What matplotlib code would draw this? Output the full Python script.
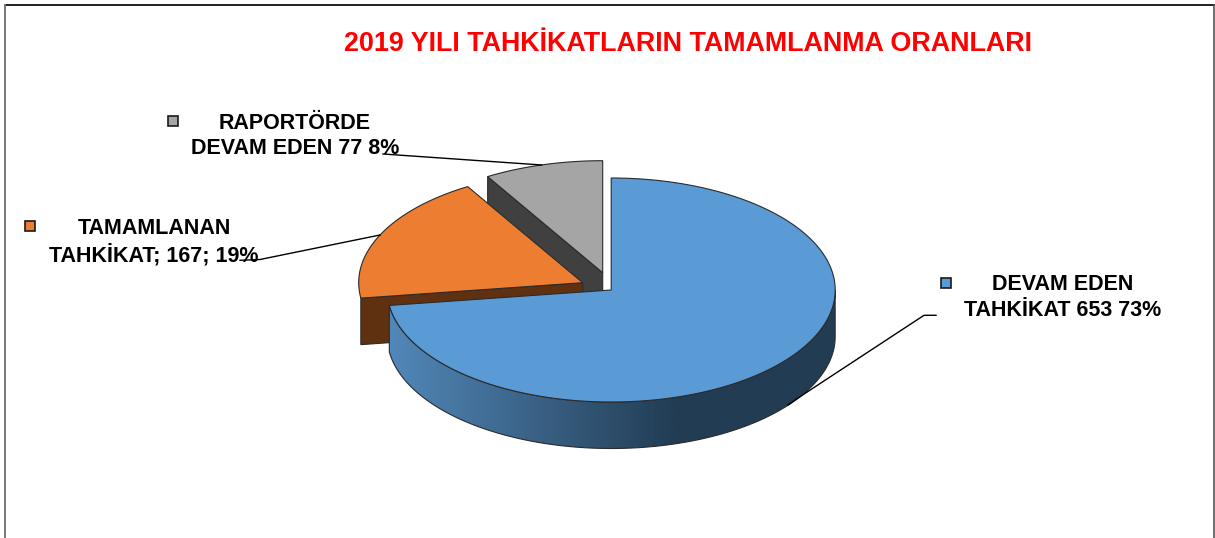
import numpy as np
import matplotlib
matplotlib.use("Agg")
import matplotlib.pyplot as plt
from matplotlib.colors import LinearSegmentedColormap
from matplotlib.patches import Polygon, Rectangle

plt.rcParams["font.family"] = ["Liberation Sans", "DejaVu Sans"]

# Veriler
kategoriler = ["DEVAM EDEN TAHKİKAT", "TAMAMLANAN TAHKİKAT", "RAPORTÖRDE DEVAM EDEN"]
degerler = [653, 167, 77]
etiketler = [
    "DEVAM EDEN\nTAHKİKAT 653 73%",
    "TAMAMLANAN\nTAHKİKAT; 167; 19%",
    "RAPORTÖRDE\nDEVAM EDEN 77 8%",
]
baslik = "2019 YILI TAHKİKATLARIN TAMAMLANMA ORANLARI"

# Görünüm
renkler = ["#5b9bd5", "#ed7d31", "#a5a5a5"]
yan_renkler = ["#223c53", "#5f3111", "#404040"]
merkezler = [(611.2, 290), (582.7, 282.7), (602.7, 272.7)]
etiket_yer = [(1063, 297.5), (154, 242), (295, 136)]
kare_yer = [(946, 283), (30, 226), (173, 121)]
cizgiler = [
    [(936, 315.3), (924, 315.3), (800, 396.7), (788, 405)],
    [(240, 260.3), (260, 259.5), (380, 235)],
    [(383, 154), (541.7, 165)],
]
rx, ry, derinlik = 224, 112, 46.5
kenar = "#2b2b2b"

fig = plt.figure(figsize=(12.15, 5.38), dpi=100)
ax = fig.add_axes([0, 0, 1, 1])


def yay(cx, cy, a1, a2, n=200):
    t = np.radians(np.linspace(a1, a2, n))
    return np.column_stack([cx + rx * np.sin(t), cy - ry * np.cos(t)])


# Dilim açıları (saat yönünde, tepeden başlayarak)
sinirlar = np.concatenate([[0], np.cumsum(degerler)]) / sum(degerler) * 360

# Sondan başa çiz: mavi dilim en üstte kalıyor
for i in [2, 1, 0]:
    a1, a2 = sinirlar[i], sinirlar[i + 1]
    cx, cy = merkezler[i]
    ust = yay(cx, cy, a1, a2)

    if i == 0:
        # Dış kenar: soldan sağa doğru koyulaşan gradyan
        kenar_yay = yay(cx, cy, 90, a2)
        yan = np.vstack([kenar_yay, kenar_yay[::-1] + [0, derinlik]])
        p = Polygon(yan, closed=True, fc="none", ec=kenar, lw=0.8, zorder=6)
        ax.add_patch(p)
        cmap = LinearSegmentedColormap.from_list(
            "yan", [(0, "#5288ba"), (0.65, "#223c53"), (1, "#223c53")]
        )
        im = ax.imshow(
            np.linspace(0, 1, 256).reshape(1, -1), cmap=cmap, aspect="auto",
            extent=[cx - rx, cx + rx, 450, 280], zorder=5,
        )
        im.set_clip_path(p)
    else:
        # İç kesit yüzü
        sol = ust[0]
        ax.add_patch(Polygon(
            [sol, (cx, cy), (cx, cy + derinlik), sol + [0, derinlik]],
            closed=True, fc=yan_renkler[i], ec=kenar, lw=0.8, zorder=1 + (2 - i) * 2,
        ))
    ax.add_patch(Polygon(
        np.vstack([[(cx, cy)], ust]), closed=True,
        fc=renkler[i], ec=kenar, lw=0.8, zorder=2 + (2 - i) * 2 + (2 if i == 0 else 0),
    ))

# Bağlantı çizgileri
for c in cizgiler:
    x, y = zip(*c)
    ax.plot(x, y, color="black", lw=1.0, zorder=8)

# Etiketler ve renk kareleri
for i in range(len(degerler)):
    ax.text(*etiket_yer[i], etiketler[i], ha="center", va="center", fontsize=15.5,
            fontweight="bold", linespacing=1.29, color="black", zorder=9)
    x, y = kare_yer[i]
    ax.add_patch(Rectangle((x - 5, y - 5), 10, 10, fc=renkler[i], ec="#1a1a1a", lw=1.2, zorder=9))

ax.text(687.5, 44, baslik, ha="center", va="center", fontsize=19.4,
        fontweight="bold", color="#ff0000")

# Çerçeve
ax.plot([5, 1214], [5, 5], color="#111111", lw=1.3)
ax.plot([5, 5], [5, 538], color="#777777", lw=1.4)
ax.plot([1214, 1214], [5, 538], color="#555555", lw=1.2)

ax.set_xlim(0, 1215)
ax.set_ylim(538, 0)
ax.axis("off")
fig.savefig("out.png", dpi=100)
